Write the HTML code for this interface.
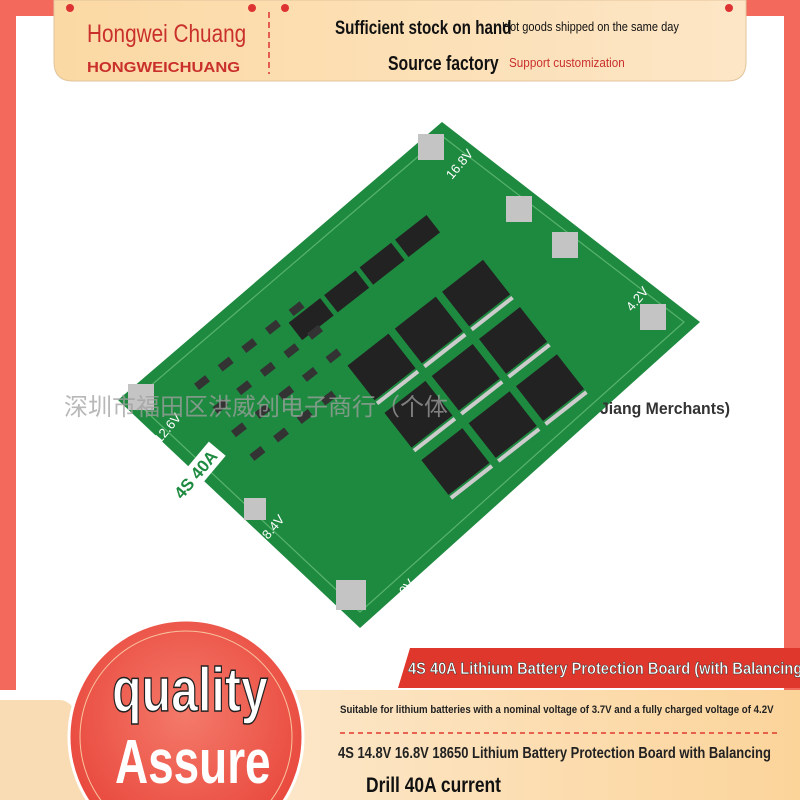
<!DOCTYPE html>
<html><head><meta charset="utf-8"><style>
html,body{margin:0;padding:0}
body{width:800px;height:800px;position:relative;overflow:hidden;background:#fff;font-family:"Liberation Sans","Noto Sans CJK SC",sans-serif}
.a{position:absolute;white-space:nowrap;line-height:1;transform-origin:0 0}
</style></head><body>
<svg class="a" style="left:0;top:0" width="800" height="800">
<defs>
<linearGradient id="ban" x1="0" x2="1"><stop offset="0" stop-color="#fbd9a4"/><stop offset="1" stop-color="#fde6c6"/></linearGradient>
<linearGradient id="pch" x1="0" x2="1"><stop offset="0" stop-color="#fdebd3"/><stop offset="1" stop-color="#fbd49a"/></linearGradient>
<radialGradient id="circ" cx="0.5" cy="0.4" r="0.6"><stop offset="0" stop-color="#f47a6a"/><stop offset="1" stop-color="#e8453a"/></radialGradient>
</defs>
<rect x="0" y="0" width="800" height="690" fill="#f36a5c"/>
<rect x="16" y="16" width="768" height="674" fill="#fff"/>
<path d="M0 700 H60 Q80 700 90 760 L100 800 H0Z" fill="#f9dcb3"/>
<path d="M54 0 H746 V62 Q746 81 727 81 H73 Q54 81 54 62Z" fill="url(#ban)" stroke="#e2c49c" stroke-width="1"/>
<line x1="269" y1="12" x2="269" y2="74" stroke="#d33" stroke-width="1.5" stroke-dasharray="6,4"/>
<circle cx="70" cy="8" r="4" fill="#d33"/><circle cx="252" cy="8" r="4" fill="#d33"/>
<circle cx="285" cy="8" r="4" fill="#d33"/><circle cx="729" cy="8" r="4" fill="#d33"/>
<polygon points="442,122 700,322 360,628 118,400" fill="#1e8a40"/>
<polygon points="442,136 684,322 360,612 134,400" fill="none" stroke="#7fcf8a" stroke-width="1.2" opacity=".6"/>
<g fill="#c4c4c4"><rect x="418" y="134" width="26" height="26"/><rect x="506" y="196" width="26" height="26"/><rect x="552" y="232" width="26" height="26"/><rect x="640" y="304" width="26" height="26"/><rect x="128" y="384" width="26" height="26"/><rect x="244" y="498" width="22" height="22"/><rect x="336" y="580" width="30" height="30"/></g>
<g fill="#222" transform="rotate(-38 430 390)">
<rect x="360" y="250" width="40" height="22"/><rect x="405" y="250" width="40" height="22"/><rect x="450" y="250" width="40" height="22"/><rect x="495" y="250" width="40" height="22"/>
<rect x="380" y="320" width="52" height="44"/><rect x="440" y="320" width="52" height="44"/><rect x="500" y="320" width="52" height="44"/>
<rect x="380" y="380" width="52" height="44"/><rect x="440" y="380" width="52" height="44"/><rect x="500" y="380" width="52" height="44"/>
<rect x="380" y="440" width="52" height="44"/><rect x="440" y="440" width="52" height="44"/><rect x="500" y="440" width="52" height="44"/>
</g>
<g fill="#ccc" transform="rotate(-38 430 390)">
<rect x="380" y="366" width="52" height="4"/><rect x="440" y="366" width="52" height="4"/><rect x="500" y="366" width="52" height="4"/>
<rect x="380" y="426" width="52" height="4"/><rect x="440" y="426" width="52" height="4"/><rect x="500" y="426" width="52" height="4"/>
<rect x="380" y="486" width="52" height="4"/><rect x="440" y="486" width="52" height="4"/><rect x="500" y="486" width="52" height="4"/>
</g>
<g fill="#333" transform="rotate(-38 280 380)">
<rect x="210" y="330" width="14" height="8"/><rect x="240" y="330" width="14" height="8"/><rect x="270" y="330" width="14" height="8"/><rect x="300" y="330" width="14" height="8"/><rect x="330" y="330" width="14" height="8"/>
<rect x="210" y="360" width="14" height="8"/><rect x="240" y="360" width="14" height="8"/><rect x="270" y="360" width="14" height="8"/><rect x="300" y="360" width="14" height="8"/><rect x="330" y="360" width="14" height="8"/>
<rect x="210" y="390" width="14" height="8"/><rect x="240" y="390" width="14" height="8"/><rect x="270" y="390" width="14" height="8"/><rect x="300" y="390" width="14" height="8"/><rect x="330" y="390" width="14" height="8"/>
<rect x="210" y="420" width="14" height="8"/><rect x="240" y="420" width="14" height="8"/><rect x="270" y="420" width="14" height="8"/><rect x="300" y="420" width="14" height="8"/>
</g>
<text transform="translate(452,180) rotate(-50)" fill="#fff" font-size="13" font-family="Liberation Sans">16.8V</text>
<text transform="translate(632,312) rotate(-50)" fill="#fff" font-size="13" font-family="Liberation Sans">4.2V</text>
<text transform="translate(160,444) rotate(-50)" fill="#fff" font-size="13" font-family="Liberation Sans">12.6V</text>
<text transform="translate(268,540) rotate(-50)" fill="#fff" font-size="13" font-family="Liberation Sans">8.4V</text>
<text transform="translate(405,596) rotate(-50)" fill="#fff" font-size="13" font-family="Liberation Sans">0V</text>
<g transform="translate(182,500) rotate(-50)"><rect x="-4" y="-17" width="66" height="22" fill="#fff"/><text x="0" y="0" fill="#1e8a40" font-size="17" font-weight="bold" font-family="Liberation Sans">4S 40A</text></g>
<path d="M165 800 V710 Q165 690 185 690 H800 V800Z" fill="url(#pch)"/>
<circle cx="186" cy="737" r="117" fill="url(#circ)" stroke="#fff" stroke-width="3"/>
<circle cx="186" cy="737" r="106" fill="none" stroke="#f8c4a0" stroke-width="1"/>
<path d="M410 648 H800 V688 H398Z" fill="#e0372c"/>
<line x1="340" y1="733" x2="780" y2="733" stroke="#e03a2e" stroke-width="1.5" stroke-dasharray="5,4"/>
</svg>
<div class="a" style="left:87px;top:22px;font-size:25px;color:#c9302c;transform:scaleX(.83)">Hongwei Chuang</div>
<div class="a" style="left:87px;top:60px;font-size:15px;font-weight:bold;color:#c9302c;transform:scaleX(1.1)">HONGWEICHUANG</div>
<div class="a" style="left:335px;top:19px;font-size:19px;font-weight:bold;color:#111;transform:scaleX(.8)">Sufficient stock on hand</div>
<div class="a" style="left:502px;top:20px;font-size:13px;color:#111;transform:scaleX(.85)">Hot goods shipped on the same day</div>
<div class="a" style="left:388px;top:54px;font-size:20px;font-weight:bold;color:#111;transform:scaleX(.79)">Source factory</div>
<div class="a" style="left:509px;top:56px;font-size:13px;color:#c9302c;transform:scaleX(.9)">Support customization</div>
<div class="a" style="left:64px;top:396px;font-size:24px;color:rgba(160,160,160,.75)">深圳市福田区洪威创电子商行（个体</div>
<div class="a" style="left:600px;top:400px;font-size:17px;font-weight:bold;color:#333;transform:scaleX(.93)">Jiang Merchants)</div>
<div class="a" style="left:112px;top:660px;font-size:62px;font-weight:bold;color:#fff;-webkit-text-stroke:1.5px #222;transform:scaleX(.78)">quality</div>
<div class="a" style="left:115px;top:732px;font-size:62px;font-weight:bold;color:#fff;transform:scaleX(.74)">Assure</div>
<div class="a" style="left:408px;top:660px;font-size:17px;font-weight:bold;color:#fff;-webkit-text-stroke:.5px #333;transform:scaleX(.86)">4S 40A Lithium Battery Protection Board (with Balancing</div>
<div class="a" style="left:340px;top:705px;font-size:11px;font-weight:bold;color:#222;transform:scaleX(.88)">Suitable for lithium batteries with a nominal voltage of 3.7V and a fully charged voltage of 4.2V</div>
<div class="a" style="left:338px;top:746px;font-size:16px;font-weight:bold;color:#222;transform:scaleX(.81)">4S 14.8V 16.8V 18650 Lithium Battery Protection Board with Balancing</div>
<div class="a" style="left:366px;top:775px;font-size:21px;font-weight:bold;color:#111;transform:scaleX(.83)">Drill 40A current</div>
</body></html>
